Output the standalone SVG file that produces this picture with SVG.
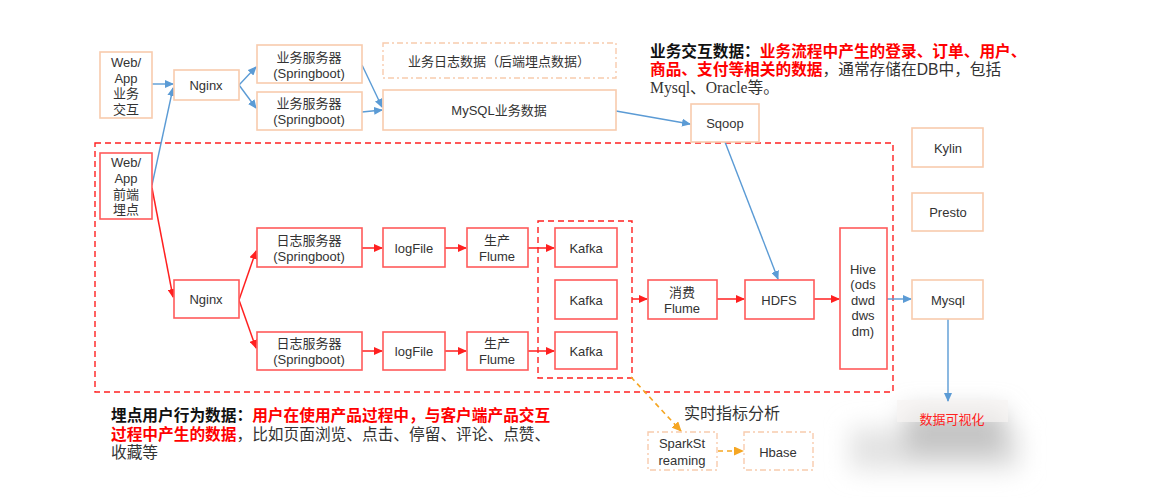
<svg xmlns="http://www.w3.org/2000/svg" width="1157" height="498" viewBox="0 0 1157 498">
<style>
  text { font-family: "Liberation Sans", "Noto Sans CJK SC", sans-serif; fill: #333; }
  .t { font-size: 13px; text-anchor: middle; dominant-baseline: central; }
  .ob { fill: #fff; stroke: #F8CBAD; stroke-width: 1.6; }
  .rb { fill: #fff; stroke: #FF5A5A; stroke-width: 1.6; }
  .dd { fill: #fff; stroke: #F8CBAD; stroke-width: 1.4; stroke-dasharray: 6 3 2 3; }
  .blue { fill: none; stroke: #5B9BD5; stroke-width: 1.4; marker-end: url(#ab); }
  .red { fill: none; stroke: #FF2020; stroke-width: 1.5; marker-end: url(#ar); }
  .org { fill: none; stroke: #F5A623; stroke-width: 1.6; stroke-dasharray: 5 4; marker-end: url(#ao); }
  .rdash { fill: none; stroke: #FF2020; stroke-width: 1.4; stroke-dasharray: 6 4; }
  .note { font-size: 15.7px; }
  .bk { font-weight: bold; fill: #111; }
  .rd { font-weight: bold; fill: #FF0000; }
  .nm { fill: #333; }
</style>
<defs>
  <marker id="ab" markerWidth="9" markerHeight="8" refX="8" refY="4" orient="auto" markerUnits="userSpaceOnUse"><path d="M0,0 L9,4 L0,8 z" fill="#5B9BD5"/></marker>
  <marker id="ar" markerWidth="9" markerHeight="8" refX="8" refY="4" orient="auto" markerUnits="userSpaceOnUse"><path d="M0,0 L9,4 L0,8 z" fill="#FF2020"/></marker>
  <marker id="ao" markerWidth="10" markerHeight="9" refX="9" refY="4.5" orient="auto" markerUnits="userSpaceOnUse"><path d="M0,0 L10,4.5 L0,9 z" fill="#F5A623"/></marker>
  <filter id="blur" x="-50%" y="-50%" width="200%" height="200%"><feGaussianBlur stdDeviation="12"/></filter>
</defs>
<rect width="1157" height="498" fill="#fff"/>

<!-- blurred artifact -->
<g filter="url(#blur)">
  <rect x="850" y="428" width="170" height="42" fill="#e3e3e3"/>
  <rect x="905" y="410" width="100" height="45" fill="#c4c4c4"/>
</g>
<rect x="897" y="400" width="111" height="22" fill="#f6f4f2" opacity="0.7"/>

<!-- containers -->
<g id="containers">
  <rect class="rdash" x="95" y="143" width="798" height="249"/>
  <rect class="rdash" x="538" y="221" width="94" height="157"/>
</g>

<!-- connectors -->
<g id="connectors">
  <line class="blue" x1="152" y1="84" x2="173" y2="84"/>
  <line class="blue" x1="152" y1="185" x2="173" y2="88"/>
  <line class="blue" x1="239" y1="85" x2="256" y2="67"/>
  <line class="blue" x1="239" y1="85" x2="256" y2="108"/>
  <line class="blue" x1="362" y1="65" x2="382" y2="107"/>
  <line class="blue" x1="362" y1="112" x2="382" y2="110"/>
  <line class="blue" x1="616" y1="111" x2="690" y2="124"/>
  <line class="blue" x1="725" y1="142" x2="778" y2="279"/>
  <line class="blue" x1="887" y1="299" x2="911" y2="299"/>
  <line class="blue" x1="948" y1="319" x2="948" y2="401"/>

  <line class="red" x1="152" y1="188" x2="173" y2="297"/>
  <line class="red" x1="239" y1="300" x2="256" y2="251"/>
  <line class="red" x1="239" y1="300" x2="256" y2="348"/>
  <line class="red" x1="362" y1="248" x2="382" y2="248"/>
  <line class="red" x1="362" y1="351" x2="382" y2="351"/>
  <line class="red" x1="445" y1="248" x2="466" y2="248"/>
  <line class="red" x1="445" y1="351" x2="466" y2="351"/>
  <line class="red" x1="528" y1="248" x2="554" y2="248"/>
  <line class="red" x1="528" y1="351" x2="554" y2="351"/>
  <line class="red" x1="632" y1="299" x2="647" y2="299"/>
  <line class="red" x1="717" y1="299" x2="744" y2="299"/>
  <line class="red" x1="814" y1="299" x2="839" y2="299"/>

  <line class="org" x1="631" y1="377" x2="681" y2="431"/>
  <line class="org" x1="718" y1="451" x2="743" y2="451"/>
</g>

<!-- business interaction -->
<g id="webapp-biz"><rect class="ob" x="100" y="52" width="52" height="66"/>
  <text class="t" font-size="14"><tspan x="126" y="62">Web/</tspan><tspan x="126" y="78">App</tspan><tspan x="126" y="93">业务</tspan><tspan x="126" y="109">交互</tspan></text></g>
<g id="nginx-biz"><rect class="ob" x="174" y="70" width="65" height="30"/><text class="t" x="206" y="85">Nginx</text></g>
<g id="bizserver1"><rect class="ob" x="257" y="45" width="105" height="38"/>
  <text class="t"><tspan x="309" y="57">业务服务器</tspan><tspan x="309" y="73">(Springboot)</tspan></text></g>
<g id="bizserver2"><rect class="ob" x="257" y="92" width="105" height="38"/>
  <text class="t"><tspan x="309" y="103">业务服务器</tspan><tspan x="309" y="119">(Springboot)</tspan></text></g>
<g id="bizlog"><rect class="dd" x="383" y="43" width="233" height="35"/><text class="t" x="499" y="61">业务日志数据（后端埋点数据）</text></g>
<g id="mysql-biz"><rect class="ob" x="383" y="90" width="233" height="40"/><text class="t" x="499" y="110">MySQL业务数据</text></g>
<g id="sqoop"><rect class="ob" x="691" y="104" width="68" height="38"/><text class="t" x="725" y="123">Sqoop</text></g>

<!-- tracking -->
<g id="webapp-track"><rect class="rb" x="100" y="153" width="52" height="66"/>
  <text class="t" font-size="14"><tspan x="126" y="162">Web/</tspan><tspan x="126" y="178">App</tspan><tspan x="126" y="194">前端</tspan><tspan x="126" y="209">埋点</tspan></text></g>
<g id="nginx-track"><rect class="rb" x="174" y="280" width="65" height="38"/><text class="t" x="206" y="299">Nginx</text></g>
<g id="logserver1"><rect class="rb" x="257" y="228" width="105" height="39"/>
  <text class="t"><tspan x="309" y="240">日志服务器</tspan><tspan x="309" y="256">(Springboot)</tspan></text></g>
<g id="logserver2"><rect class="rb" x="257" y="332" width="105" height="38"/>
  <text class="t"><tspan x="309" y="343">日志服务器</tspan><tspan x="309" y="359">(Springboot)</tspan></text></g>
<g id="logfile1"><rect class="rb" x="383" y="228" width="62" height="39"/><text class="t" x="414" y="248">logFile</text></g>
<g id="logfile2"><rect class="rb" x="383" y="332" width="62" height="38"/><text class="t" x="414" y="351">logFile</text></g>
<g id="flume-p1"><rect class="rb" x="467" y="228" width="61" height="39"/>
  <text class="t"><tspan x="497" y="240">生产</tspan><tspan x="497" y="256">Flume</tspan></text></g>
<g id="flume-p2"><rect class="rb" x="467" y="332" width="61" height="38"/>
  <text class="t"><tspan x="497" y="343">生产</tspan><tspan x="497" y="359">Flume</tspan></text></g>
<g id="kafka1"><rect class="rb" x="555" y="228" width="62" height="39"/><text class="t" x="586" y="248">Kafka</text></g>
<g id="kafka2"><rect class="rb" x="555" y="280" width="62" height="39"/><text class="t" x="586" y="300">Kafka</text></g>
<g id="kafka3"><rect class="rb" x="555" y="332" width="62" height="37"/><text class="t" x="586" y="351">Kafka</text></g>
<g id="flume-c"><rect class="rb" x="648" y="280" width="69" height="39"/>
  <text class="t"><tspan x="682" y="292">消费</tspan><tspan x="682" y="308">Flume</tspan></text></g>
<g id="hdfs"><rect class="rb" x="745" y="280" width="69" height="39"/><text class="t" x="779" y="300">HDFS</text></g>
<g id="hive"><rect class="rb" x="840" y="228" width="47" height="141"/>
  <text class="t"><tspan x="863" y="269">Hive</tspan><tspan x="863" y="284">(ods</tspan><tspan x="863" y="300">dwd</tspan><tspan x="863" y="315">dws</tspan><tspan x="863" y="331">dm)</tspan></text></g>

<!-- right column -->
<g id="kylin"><rect class="ob" x="912" y="128" width="71" height="39"/><text class="t" x="948" y="148">Kylin</text></g>
<g id="presto"><rect class="ob" x="912" y="193" width="71" height="38"/><text class="t" x="948" y="212">Presto</text></g>
<g id="mysql"><rect class="ob" x="912" y="280" width="71" height="39"/><text class="t" x="948" y="300">Mysql</text></g>
<g id="viz"><text class="t" x="952" y="419" font-size="12" style="fill:#FF2020">数据可视化</text></g>

<!-- realtime -->
<g id="realtime-label"><text x="732" y="419" font-size="16" text-anchor="middle" fill="#333">实时指标分析</text></g>
<g id="sparkstreaming"><rect class="dd" x="648" y="432" width="69" height="38"/>
  <text class="t"><tspan x="682" y="443">SparkSt</tspan><tspan x="682" y="460">reaming</tspan></text></g>
<g id="hbase"><rect class="dd" x="744" y="432" width="69" height="38"/><text class="t" x="778" y="452">Hbase</text></g>

<!-- notes -->
<g id="note-biz">
  <text class="note" x="650" y="57"><tspan class="bk">业务交互数据：</tspan><tspan class="rd">业务流程中产生的登录、订单、用户、</tspan></text>
  <text class="note" x="650" y="75"><tspan class="rd">商品、支付等相关的数据</tspan><tspan class="nm">，通常存储在DB中，包括</tspan></text>
  <text class="note" x="650" y="93" style="font-family:'Liberation Serif','Noto Sans CJK SC',serif">Mysql、Oracle等。</text>
</g>
<g id="note-track">
  <text class="note" x="111" y="421"><tspan class="bk">埋点用户行为数据：</tspan><tspan class="rd">用户在使用产品过程中，与客户端产品交互</tspan></text>
  <text class="note" x="111" y="440"><tspan class="rd">过程中产生的数据</tspan><tspan class="nm">，比如页面浏览、点击、停留、评论、点赞、</tspan></text>
  <text class="note" x="111" y="458"><tspan class="nm">收藏等</tspan></text>
</g>
</svg>
